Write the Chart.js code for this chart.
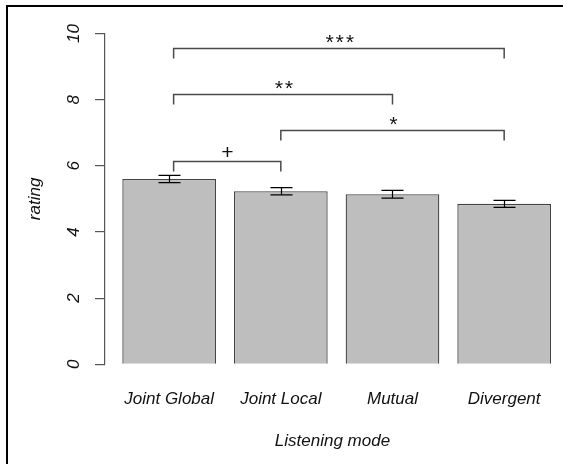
<!DOCTYPE html>
<html>
<head>
<meta charset="utf-8">
<script src="https://cdn.jsdelivr.net/npm/chart.js@4/dist/chart.umd.min.js"></script>
<style>
  html, body { margin: 0; padding: 0; background: #fff; }
  #wrap { position: relative; width: 563px; height: 464px; overflow: hidden; }
  #frame { position: absolute; left: 6px; top: 5px; width: 600px; height: 500px;
           border-left: 2px solid #000; border-top: 2px solid #000; }
  #chart { position: absolute; left: 0; top: 0; }
</style>
</head>
<body>
<div id="wrap">
  <div id="frame"></div>
  <canvas id="chart" width="563" height="464"></canvas>
</div>
<script>
// data
const categories = ['Joint Global', 'Joint Local', 'Mutual', 'Divergent'];
const means = [5.60, 5.23, 5.14, 4.85];
const errors = [0.11, 0.11, 0.115, 0.105];
const yTicks = [0, 2, 4, 6, 8, 10];

// significance brackets (x in bar index units, y in rating units)
const bracketFrom = [0.04, 1, 0.04, 0.04];
const bracketTo = [1, 3, 2, 3];
const bracketHeight = [6.16, 7.07, 8.17, 9.57];
const bracketLabels = ['+', '*', '**', '***'];

const FONT = "'Liberation Sans', Arial, sans-serif";

// error bars drawn on top of the bars
const errorBarPlugin = {
  id: 'errorBars',
  afterDatasetsDraw(chart) {
    const ctx = chart.ctx;
    const xs = chart.scales.x, ys = chart.scales.y;
    ctx.save();
    ctx.strokeStyle = '#000';
    ctx.lineWidth = 1.2;
    for (let i = 0; i < means.length; i++) {
      const px = Math.round(xs.getPixelForValue(i)) + 0.5;
      const hi = ys.getPixelForValue(means[i] + errors[i]);
      const lo = ys.getPixelForValue(means[i] - errors[i]);
      ctx.beginPath();
      ctx.moveTo(px, hi); ctx.lineTo(px, lo);
      ctx.moveTo(px - 11, hi); ctx.lineTo(px + 11, hi);
      ctx.moveTo(px - 11, lo); ctx.lineTo(px + 11, lo);
      ctx.stroke();
    }
    ctx.restore();
  }
};

// brackets with significance marks
const bracketPlugin = {
  id: 'brackets',
  afterDatasetsDraw(chart) {
    const ctx = chart.ctx;
    const xs = chart.scales.x, ys = chart.scales.y;
    ctx.save();
    ctx.strokeStyle = '#4a4a4a';
    ctx.lineWidth = 1.5;
    for (let i = 0; i < bracketLabels.length; i++) {
      const x1 = xs.getPixelForValue(bracketFrom[i]);
      const x2 = xs.getPixelForValue(bracketTo[i]);
      const y = Math.round(ys.getPixelForValue(bracketHeight[i])) + 0.5;
      ctx.beginPath();
      ctx.moveTo(x1, y + 10); ctx.lineTo(x1, y);
      ctx.lineTo(x2, y); ctx.lineTo(x2, y + 10);
      ctx.stroke();

      ctx.fillStyle = '#111';
      ctx.font = 'italic 21px ' + FONT;
      ctx.letterSpacing = '2px';
      ctx.textAlign = 'center';
      ctx.textBaseline = 'alphabetic';
      const m = ctx.measureText(bracketLabels[i]);
      const inkMid = (m.actualBoundingBoxAscent - m.actualBoundingBoxDescent) / 2;
      ctx.fillText(bracketLabels[i], (x1 + x2) / 2 + 1, y - 10 + inkMid);
    }
    ctx.restore();
  }
};

const ctx = document.getElementById('chart').getContext('2d');
new Chart(ctx, {
  type: 'bar',
  data: {
    datasets: [{
      data: means.map((v, i) => ({ x: i, y: v })),
      backgroundColor: '#bebebe',
      borderColor: '#444',
      borderWidth: 1.3,
      categoryPercentage: 1,
      barPercentage: 0.839
    }]
  },
  options: {
    responsive: false,
    animation: false,
    devicePixelRatio: 1,
    layout: { padding: { left: 6, top: 33.5, right: 3, bottom: 0 } },
    plugins: { legend: { display: false }, tooltip: { enabled: false } },
    scales: {
      x: {
        type: 'linear',
        offset: false,
        min: -0.5745,
        max: 3.5,
        afterBuildTicks: (s) => { s.ticks = categories.map((c, i) => ({ value: i })); },
        afterFit: (s) => { s.height = 99.7; },
        grid: { display: false, offset: false },
        border: { display: false },
        ticks: {
          padding: 16.5,
          color: '#111',
          font: { family: FONT, size: 17, style: 'italic' },
          callback: (v) => categories[v]
        },
        title: {
          display: true,
          text: 'Listening mode',
          color: '#111',
          font: { family: FONT, size: 17, style: 'italic' },
          padding: { bottom: 12.8 }
        }
      },
      y: {
        min: 0,
        max: 10,
        afterBuildTicks: (s) => { s.ticks = yTicks.map((v) => ({ value: v })); },
        afterFit: (s) => { s.width = 99; },
        grid: { drawOnChartArea: false, drawTicks: true, tickLength: 10, color: '#555', lineWidth: 1.2 },
        border: { display: true, color: '#555', width: 1.2 },
        ticks: {
          minRotation: 90,
          maxRotation: 90,
          crossAlign: 'center',
          padding: 11,
          color: '#111',
          font: { family: FONT, size: 17, style: 'italic' },
          callback: (v) => String(v)
        },
        title: {
          display: true,
          text: 'rating',
          color: '#111',
          font: { family: FONT, size: 17, style: 'italic' },
          padding: { top: 19 }
        }
      }
    }
  },
  plugins: [errorBarPlugin, bracketPlugin]
});
</script>
</body>
</html>
